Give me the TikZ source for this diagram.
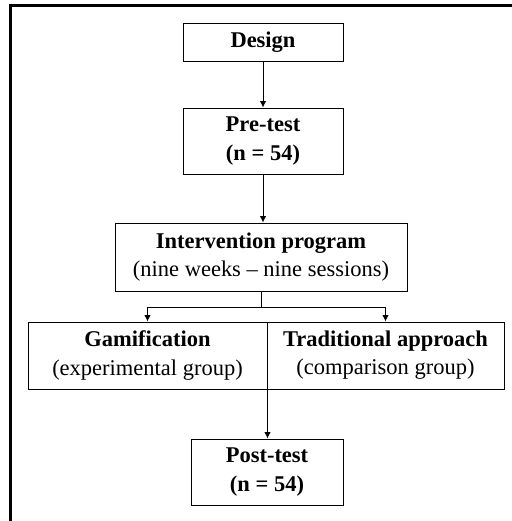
\documentclass[tikz,border=0pt]{standalone}
\usepackage{fontspec}
\setmainfont{Liberation Serif}
\usepackage{tikz}
\usetikzlibrary{arrows.meta,positioning,calc}

\begin{document}
\begin{tikzpicture}[
    box/.style={rectangle, draw=black, fill=white, line width=0.7pt, inner sep=2pt, align=center, font=\fontsize{16}{20}\selectfont},
    arrow/.style={-{Latex[length=4.5pt,width=4.5pt]}, line width=0.6pt},
    frame/.style={line width=2pt}
]
\useasboundingbox (0,0) rectangle (12.8,-13.025);
\draw[frame] (0.2625,-13.025) -- (0.2625,-0.1375) -- (12.8,-0.1375);

\node[box, minimum width=4cm, minimum height=0.95cm] (design) at (6.575,-1.05) {\textbf{Design}};
\node[box, minimum width=4cm, minimum height=1.65cm] (pretest) at (6.575,-3.525) {\textbf{Pre-test}\\ \textbf{(n = 54)}};
\node[box, minimum width=7.3cm, minimum height=1.7cm] (interv) at (6.525,-6.425) {\textbf{Intervention program}\\ (nine weeks -- nine sessions)};
\node[box, minimum width=5.975cm, minimum height=1.675cm] (gamif) at (3.6875,-8.8875) {\textbf{Gamification}\\ (experimental group)};
\node[box, minimum width=5.925cm, minimum height=1.675cm] (trad) at (9.6375,-8.8875) {\textbf{Traditional approach}\\ (comparison group)};
\node[box, minimum width=3.8cm, minimum height=1.65cm] (posttest) at (6.675,-11.8) {\textbf{Post-test}\\ \textbf{(n = 54)}};
\coordinate (split) at (6.525,-7.675);

\draw[arrow] (design) -- (pretest);
\draw[arrow] (pretest) -- (pretest |- interv.north);
\draw (interv.south) -- (split);
\draw[arrow] (split) -| (gamif.north);
\draw[arrow] (split) -| (trad.north);
\draw[arrow] (gamif.south east) -- (gamif.south east |- posttest.north);
\end{tikzpicture}
\end{document}
